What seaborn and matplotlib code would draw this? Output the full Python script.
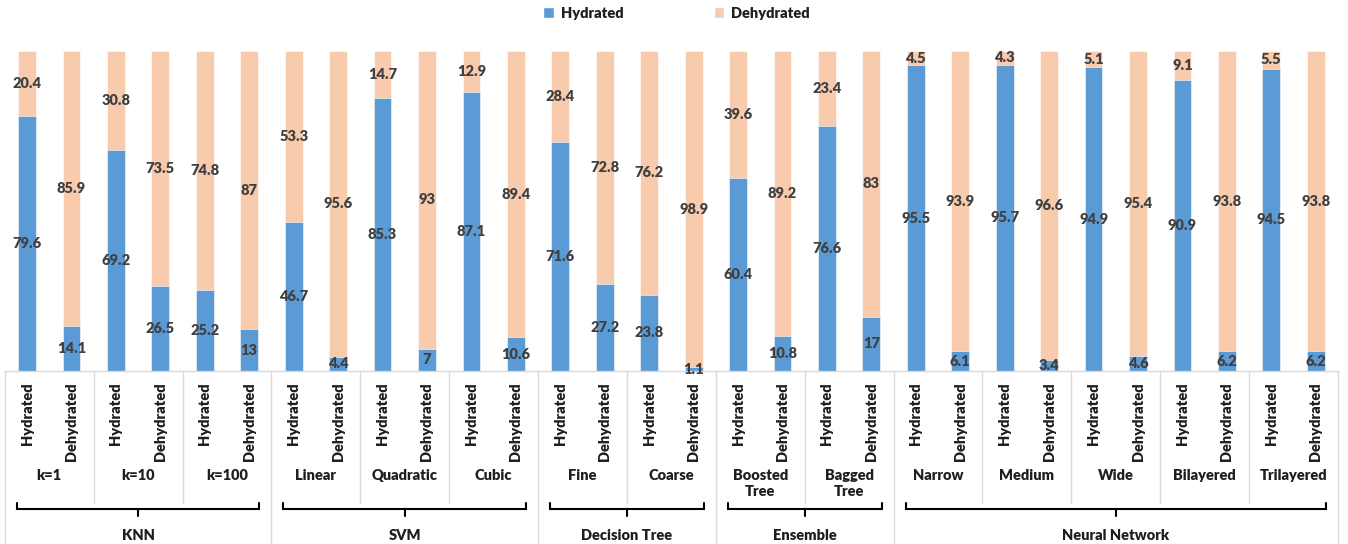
import numpy as np
import pandas as pd
import matplotlib
matplotlib.use("Agg")
import matplotlib.pyplot as plt
from matplotlib.patches import Patch
import seaborn as sns

# ---- data -------------------------------------------------------------
families = ["KNN", "SVM", "Decision Tree", "Ensemble", "Neural Network"]
family_sizes = [3, 3, 2, 2, 5]
models = ["k=1", "k=10", "k=100", "Linear", "Quadratic", "Cubic", "Fine", "Coarse",
          "Boosted\nTree", "Bagged\nTree", "Narrow", "Medium", "Wide", "Bilayered",
          "Trilayered"]
true_classes = ["Hydrated", "Dehydrated"]

# percentage of samples predicted as each class (one pair per model: true Hydrated, true Dehydrated)
pred_hydrated = [79.6, 14.1, 69.2, 26.5, 25.2, 13.0, 46.7, 4.4, 85.3, 7.0,
                 87.1, 10.6, 71.6, 27.2, 23.8, 1.1, 60.4, 10.8, 76.6, 17.0,
                 95.5, 6.1, 95.7, 3.4, 94.9, 4.6, 90.9, 6.2, 94.5, 6.2]
pred_dehydrated = [20.4, 85.9, 30.8, 73.5, 74.8, 87.0, 53.3, 95.6, 14.7, 93.0,
                   12.9, 89.4, 28.4, 72.8, 76.2, 98.9, 39.6, 89.2, 23.4, 83.0,
                   4.5, 93.9, 4.3, 96.6, 5.1, 95.4, 9.1, 93.8, 5.5, 93.8]

BLUE = "#5B9BD5"
PEACH = "#F8CBAD"
GRID = "#D9D9D9"
TXT = "#1F1F1F"
VAL = "#404040"
W = 800          # Lato Bold is registered at this weight
FS = 10.5

sns.set_theme(style="white")
plt.rcParams["font.family"] = ["Lato", "DejaVu Sans"]

n = len(models) * len(true_classes)
df = pd.DataFrame({
    "bar": np.arange(n),
    "true_class": true_classes * len(models),
    "Hydrated": pred_hydrated,
    "Dehydrated": pred_dehydrated,
})
df["total"] = df["Hydrated"] + df["Dehydrated"]

fig = plt.figure(figsize=(13.48, 5.44), dpi=100)
ax = fig.add_axes([4.8 / 1348, 1 - 371 / 544, (1338 - 4.8) / 1348, 320 / 544])

# stacked bars: full height in peach, hydrated share drawn over it in blue
sns.barplot(data=df, x="bar", y="total", color=PEACH, width=0.4, saturation=1,
            edgecolor="white", linewidth=0.4, ax=ax)
sns.barplot(data=df, x="bar", y="Hydrated", color=BLUE, width=0.4, saturation=1,
            edgecolor="white", linewidth=0.4, ax=ax)

ax.set_ylim(0, 100)
ax.set_xlim(-0.5, n - 0.5)
ax.set_ylabel("")
ax.set_xlabel("")
ax.set_yticks([])
for side in ["left", "right", "top"]:
    ax.spines[side].set_visible(False)
ax.spines["bottom"].set_color(GRID)
ax.spines["bottom"].set_linewidth(1)

# value labels at the middle of each segment
for i, row in df.iterrows():
    h, d = row["Hydrated"], row["Dehydrated"]
    ax.text(i, h / 2, f"{h:g}", ha="center", va="center", fontsize=FS,
            fontweight=W, color=VAL)
    ax.text(i, h + d / 2, f"{d:g}", ha="center", va="center", fontsize=FS,
            fontweight=W, color=VAL)

# class tick labels
ax.set_xticks(range(n))
ax.set_xticklabels(df["true_class"], rotation=90, va="top", fontsize=FS,
                   fontweight=W, color=TXT)
ax.tick_params(axis="x", length=0, pad=8)

# multi-level category axis
tr = ax.get_xaxis_transform()


def fy(px):
    """Convert a pixel offset below the axis line into axes fraction."""
    return -px / 320.0


for k, m in enumerate(models):
    ax.text(2 * k + 0.5, fy(98), m, transform=tr, ha="center", va="top",
            fontsize=FS, fontweight=W, color=TXT, linespacing=1.3)

family_bounds = np.cumsum([0] + family_sizes) * 2
for edge in range(0, n + 1, 2):
    x = edge - 0.5
    bottom = fy(173) if edge in family_bounds else fy(132)
    ax.plot([x, x], [0, bottom], transform=tr, color=GRID, lw=1, clip_on=False)

for f, name in enumerate(families):
    a = family_bounds[f]
    b = family_bounds[f + 1] - 1
    x0, x1 = a - 0.23, b + 0.23
    xm = (a + b) / 2
    yc, yh, yt = fy(132), fy(138), fy(145)
    ax.plot([x0, x0, x1, x1], [yc, yh, yh, yc], transform=tr, color="black",
            lw=1.5, clip_on=False, solid_joinstyle="miter")
    ax.plot([xm, xm], [yh, yt], transform=tr, color="black", lw=1.5, clip_on=False)
    ax.text(xm, fy(164), name, transform=tr, ha="center", va="center",
            fontsize=FS, fontweight=W, color=TXT)

# legend
handles = [Patch(facecolor=BLUE, label="Hydrated"),
           Patch(facecolor=PEACH, label="Dehydrated")]
fig.legend(handles=handles, loc="upper center", bbox_to_anchor=(0.502, 1.012),
           ncol=2, frameon=False, handlelength=0.7, handleheight=0.7,
           columnspacing=6.2, handletextpad=0.5,
           prop={"weight": W, "size": FS}, labelcolor=TXT)

fig.savefig("out.png", dpi=100, facecolor="white")
